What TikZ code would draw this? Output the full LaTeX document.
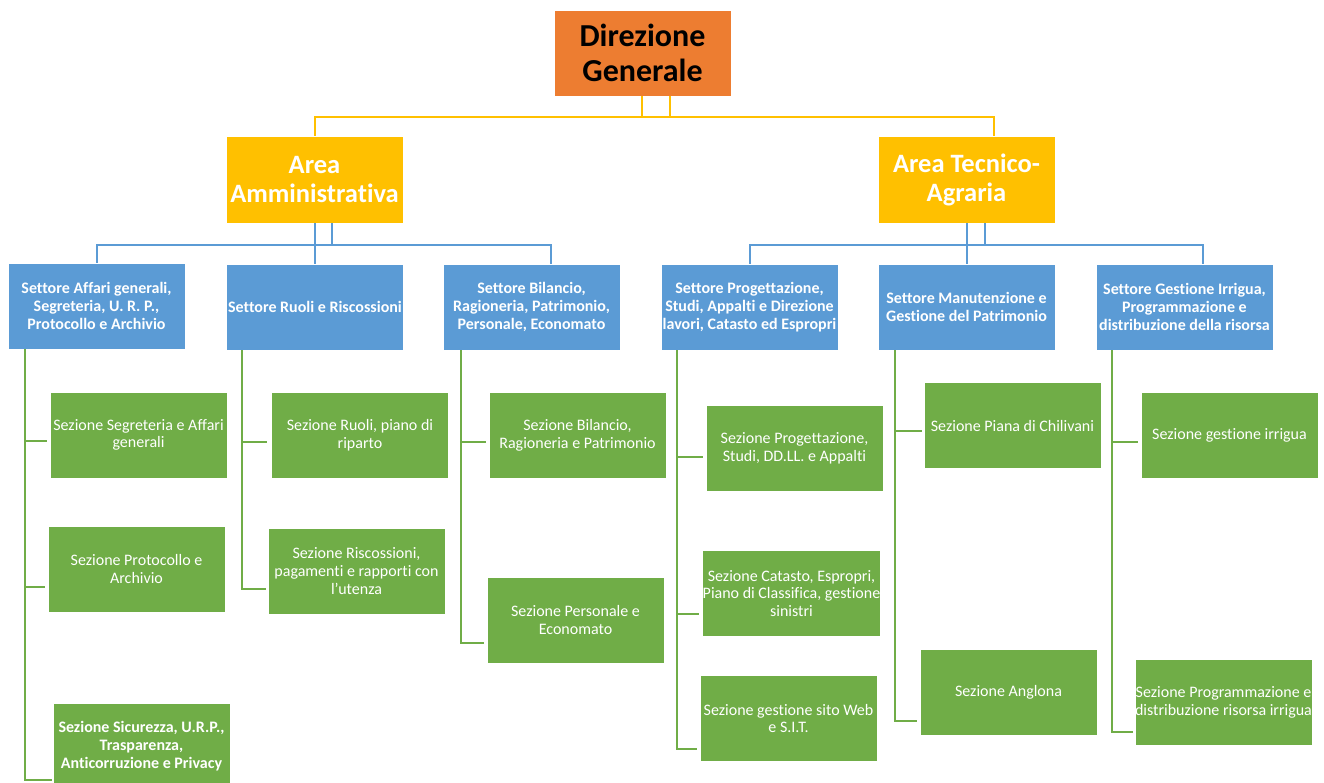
\documentclass[tikz,border=0pt]{standalone}
\usepackage{fontspec}
\setmainfont{Carlito}[Ligatures=NoCommon]
\definecolor{cOr}{HTML}{ED7D31}
\definecolor{cYe}{HTML}{FFC000}
\definecolor{cBl}{HTML}{5B9BD5}
\definecolor{cGr}{HTML}{70AD47}
\begin{document}
\begin{tikzpicture}[x=1pt,y=1pt,
  box/.style={draw=white,line width=0.6pt,minimum width=177pt,minimum height=86pt,inner sep=0pt,align=center},
  top/.style={box,fill=cOr,text=black,font=\fontsize{32}{35}\selectfont\bfseries},
  area/.style={box,fill=cYe,text=white,font=\fontsize{26.5}{29}\selectfont\bfseries,minimum height=87pt},
  sett/.style={box,fill=cBl,text=white,font=\fontsize{16}{18}\selectfont\bfseries},
  sez/.style={box,fill=cGr,text=white,font=\fontsize{16}{17.7}\selectfont},
  sezb/.style={sez,font=\fontsize{16}{17.7}\selectfont\bfseries},
  yl/.style={draw=cYe,line width=2pt},
  bl/.style={draw=cBl,line width=2pt},
  gl/.style={draw=cGr,line width=2.2pt}]
\clip (0,0) rectangle (1324,-782);
\fill[white] (0,0) rectangle (1324,-782);
% top
\node[top] (DG) at (642.5,-53) {Direzione\\Generale};
\node[area] (AA) at (314.5,-179.5) {Area\\Amministrativa};
\node[area] (AT) at (966.5,-179.5) {Area Tecnico-\\Agraria};
% settori
\node[sett] (S1) at (96.5,-306) {Settore Affari generali,\\Segreteria, U. R. P.,\\Protocollo e Archivio};
\node[sett] (S2) at (315,-307) {Settore Ruoli e Riscossioni};
\node[sett] (S3) at (531.5,-307) {Settore Bilancio,\\Ragioneria, Patrimonio,\\Personale, Economato};
\node[sett] (S4) at (749.5,-307) {Settore Progettazione,\\Studi, Appalti e Direzione\\lavori, Catasto ed Espropri};
\node[sett] (S5) at (966.5,-307) {Settore Manutenzione e\\Gestione del Patrimonio};
\node[sett] (S6) at (1184.5,-307) {Settore Gestione Irrigua,\\Programmazione e\\distribuzione della risorsa};
% sezioni
\node[sez] (s1a) at (138.5,-435) {Sezione Segreteria e Affari\\generali};
\node[sez] (s1b) at (136.5,-569) {Sezione Protocollo e\\Archivio};
\node[sezb] (s1c) at (141.5,-746) {Sezione Sicurezza, U.R.P.,\\Trasparenza,\\Anticorruzione e Privacy};
\node[sez] (s2a) at (360,-435.5) {Sezione Ruoli, piano di\\riparto};
\node[sez] (s2b) at (356.5,-571) {Sezione Riscossioni,\\pagamenti e rapporti con\\l'utenza};
\node[sez] (s3a) at (577.5,-435.5) {Sezione Bilancio,\\Ragioneria e Patrimonio};
\node[sez] (s3b) at (575.5,-620) {Sezione Personale e\\Economato};
\node[sez] (s4a) at (794.5,-448.5) {Sezione Progettazione,\\Studi, DD.LL. e Appalti};
\node[sez] (s4b) at (791.5,-593.5) {Sezione Catasto, Espropri,\\Piano di Classifica, gestione\\sinistri};
\node[sez] (s4c) at (788.5,-718.5) {Sezione gestione sito Web\\e S.I.T.};
\node[sez] (s5a) at (1012.5,-425.5) {Sezione Piana di Chilivani};
\node[sez] (s5b) at (1008.5,-692) {Sezione Anglona};
\node[sez] (s6a) at (1229.5,-435.5) {Sezione gestione irrigua};
\node[sez] (s6b) at (1223.5,-702.5) {Sezione Programmazione e\\distribuzione risorsa irrigua};
% yellow connectors
\draw[yl] ([xshift=27]DG.south) -- ++(0,-21) -| (AA.north);
\draw[yl] ([xshift=-0.5]DG.south) -- ++(0,-21) -| ([xshift=27.5]AT.north);
% blue connectors
\draw[bl] ([xshift=17.5]AA.south) -- ++(0,-22) -| (S1.north);
\draw[bl] (AA.south) -- (AA.south |- S2.north);
\draw[bl] (AA.south) -- ++(0,-22) -| ([xshift=19.5]S3.north);
\draw[bl] ([xshift=18]AT.south) -- ++(0,-22) -| (S4.north);
\draw[bl] (AT.south) -- (AT.south |- S5.north);
\draw[bl] (AT.south) -- ++(0,-22) -| ([xshift=18.5]S6.north);
% green connectors
\draw[gl] ([xshift=17]S1.south west) |- ([shift={(-3,-6)}]s1a.west);
\draw[gl] ([xshift=17]S1.south west) |- ([shift={(-3,-18)}]s1b.west);
\draw[gl] ([xshift=17]S1.south west) |- ([shift={(-1,-34)}]s1c.west);
\draw[gl] ([xshift=16]S2.south west) |- ([shift={(-4,-6.5)}]s2a.west);
\draw[gl] ([xshift=16]S2.south west) |- ([shift={(-2,-18)}]s2b.west);
\draw[gl] ([xshift=18]S3.south west) |- ([shift={(-3,-6.5)}]s3a.west);
\draw[gl] ([xshift=18]S3.south west) |- ([shift={(-3,-23)}]s3b.west);
\draw[gl] ([xshift=16]S4.south west) |- ([shift={(-3,-8.5)}]s4a.west);
\draw[gl] ([xshift=16]S4.south west) |- ([shift={(-3,-20.5)}]s4b.west);
\draw[gl] ([xshift=16]S4.south west) |- ([shift={(-3,-30.5)}]s4c.west);
\draw[gl] ([xshift=17]S5.south west) |- ([shift={(-2,-5.5)}]s5a.west);
\draw[gl] ([xshift=17]S5.south west) |- ([shift={(-3,-29)}]s5b.west);
\draw[gl] ([xshift=16]S6.south west) |- ([shift={(-3,-6.5)}]s6a.west);
\draw[gl] ([xshift=16]S6.south west) |- ([shift={(-2,-29.5)}]s6b.west);
\end{tikzpicture}
\end{document}
